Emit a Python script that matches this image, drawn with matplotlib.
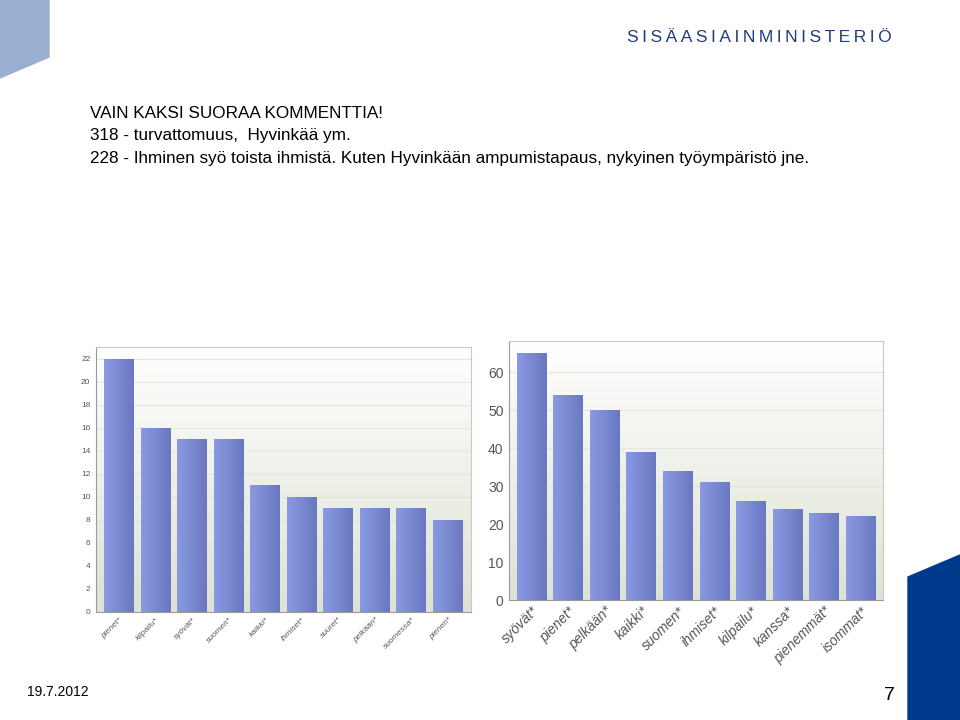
import matplotlib
matplotlib.use("Agg")
import matplotlib.pyplot as plt
from matplotlib.patches import Polygon
import numpy as np

plt.rcParams['font.family'] = ['Liberation Sans', 'DejaVu Sans']

# data
left_words = ['pienet*', 'kilpailu*', 'syövät*', 'suomen*', 'kaikki*',
              'ihmiset*', 'suuret*', 'pelkään*', 'suomessa*', 'pienen*']
left_counts = [22, 16, 15, 15, 11, 10, 9, 9, 9, 8]
left_ticks = list(range(0, 23, 2))

right_words = ['syövät*', 'pienet*', 'pelkään*', 'kaikki*', 'suomen*',
               'ihmiset*', 'kilpailu*', 'kanssa*', 'pienemmät*', 'isommat*']
right_counts = [65, 54, 50, 39, 34, 31, 26, 24, 23, 22]
right_ticks = list(range(0, 61, 10))

header_lines = ['VAIN KAKSI SUORAA KOMMENTTIA!',
                '318 - turvattomuus,  Hyvinkää ym.',
                '228 - Ihminen syö toista ihmistä. Kuten Hyvinkään ampumistapaus, nykyinen työympäristö jne.']

bg_grad = np.linspace(0, 1, 256).reshape(-1, 1)
bar_grad = np.linspace(0, 1, 64).reshape(1, -1)
bg_cmap = matplotlib.colors.LinearSegmentedColormap.from_list('bg', ['#dde2d3', '#ffffff'])
bar_cmap = matplotlib.colors.LinearSegmentedColormap.from_list('bar', ['#8a9ae2', '#6a78c2'])


def bar_chart(ax, words, counts, ticks, ymax, xpad, width, tick_size, label_size):
    ax.set_xlim(-xpad, len(words) - 1 + xpad)
    ax.set_ylim(0, ymax)
    ax.imshow(bg_grad, cmap=bg_cmap, aspect='auto', origin='lower',
              extent=(-xpad, len(words) - 1 + xpad, 0, ymax), zorder=0)
    for t in ticks[1:]:
        ax.axhline(t, color='#e4e7de', lw=0.8, zorder=1)
    bars = ax.bar(range(len(words)), counts, width=width, color='#7887d2', zorder=2)
    for b in bars:
        im = ax.imshow(bar_grad, cmap=bar_cmap, aspect='auto',
                       extent=(b.get_x(), b.get_x() + b.get_width(), 0, b.get_height()), zorder=3)
        im.set_clip_path(b)
    ax.set_xticks(range(len(words)))
    ax.set_xticklabels(words, rotation=45, ha='right', rotation_mode='anchor',
                       fontsize=label_size, style='italic', color='#555555')
    ax.set_yticks(ticks)
    ax.tick_params(axis='y', labelsize=tick_size, colors='#555555', length=0, pad=4)
    ax.tick_params(axis='x', length=0, pad=3)
    for s in ax.spines.values():
        s.set_color('#c8c8c8')
        s.set_linewidth(0.8)
    ax.spines['left'].set_color('#9a9a9a')
    ax.spines['bottom'].set_color('#9a9a9a')


fig = plt.figure(figsize=(9.6, 7.2), dpi=100)

# slide decorations
fig.patches.append(Polygon([(0, 1), (49 / 960, 1), (49 / 960, 1 - 57 / 720), (0, 1 - 78 / 720)],
                           closed=True, transform=fig.transFigure, color='#9aafd0', zorder=0))
fig.patches.append(Polygon([(908 / 960, 1 - 577 / 720), (1, 1 - 555 / 720), (1, 0), (908 / 960, 0)],
                           closed=True, transform=fig.transFigure, color='#003a8c', zorder=0))

fig.text(627 / 960, 1 - 37 / 720, '\u2009'.join('SISÄASIAINMINISTERIÖ'), fontsize=12.5,
         color='#1f3d7a', va='center', ha='left')

for i, line in enumerate(header_lines):
    fig.text(90 / 960, 1 - (113 + i * 22.5) / 720, line, fontsize=12.3, va='center', ha='left',
             color='black')

fig.text(27 / 960, 1 - 692 / 720, '19.7.2012', fontsize=10, va='center', ha='left')
fig.text(889 / 960, 1 - 695 / 720, '7', fontsize=14, va='center', ha='center')

ax1 = fig.add_axes([96 / 960, 1 - 612 / 720, 375 / 960, 265 / 720])
bar_chart(ax1, left_words, left_counts, left_ticks, 23, 0.63, 0.82, 6, 6)

ax2 = fig.add_axes([509 / 960, 1 - 600 / 720, 374 / 960, 259 / 720])
bar_chart(ax2, right_words, right_counts, right_ticks, 68.2, 0.61, 0.8, 10, 10)

fig.savefig('out.png', dpi=100)
